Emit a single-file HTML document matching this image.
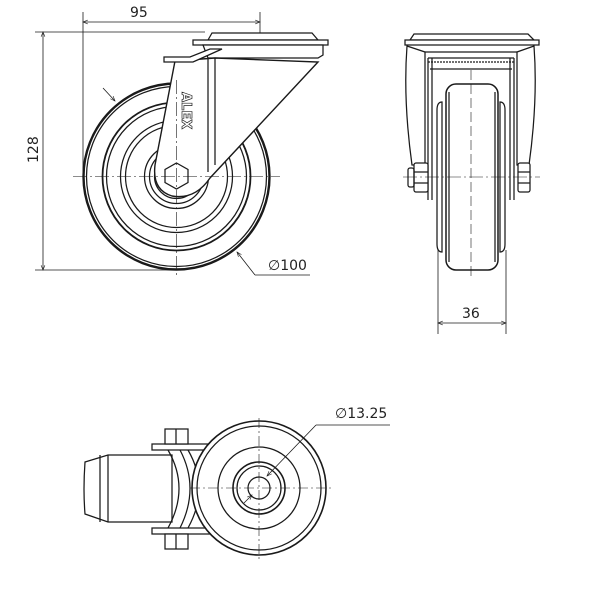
<!DOCTYPE html>
<html><head><style>
html,body{margin:0;padding:0;background:#fff;}
svg{display:block;}
text{font-family:"DejaVu Sans","Liberation Sans",sans-serif;font-size:14px;fill:#222;}
</style></head><body>
<svg width="600" height="610" viewBox="0 0 600 610" xmlns="http://www.w3.org/2000/svg">
<defs>
<marker id="a" viewBox="0 0 10 10" refX="10" refY="5" markerWidth="8" markerHeight="6" orient="auto-start-reverse"><path d="M0,1 L10,5 L0,9" fill="none" stroke="#222" stroke-width="1.3"/></marker>
</defs>
<g fill="none" stroke="#1a1a1a" stroke-width="1.25">
<!-- FRONT VIEW -->
<line x1="83" y1="12" x2="83" y2="178" stroke-width="0.8"/>
<line x1="260" y1="12" x2="260" y2="56" stroke-width="0.8"/>
<line x1="83" y1="22" x2="260" y2="22" marker-start="url(#a)" marker-end="url(#a)" stroke-width="0.8"/>
<line x1="35" y1="32" x2="205" y2="32" stroke-width="0.8"/>
<line x1="35" y1="270" x2="176" y2="270" stroke-width="0.8"/>
<line x1="43" y1="32" x2="43" y2="270" marker-start="url(#a)" marker-end="url(#a)" stroke-width="0.8"/>
<circle cx="176.5" cy="176.5" r="93" stroke-width="2.4"/>
<circle cx="176.5" cy="176.5" r="90"/>
<circle cx="176.5" cy="176.5" r="74" stroke-width="1.8"/>
<circle cx="176.5" cy="176.5" r="70"/>
<circle cx="176.5" cy="176.5" r="56"/>
<circle cx="176.5" cy="176.5" r="51"/>
<circle cx="176.5" cy="176.5" r="32"/>
<circle cx="176.5" cy="176.5" r="27"/>
<circle cx="176.5" cy="176.5" r="22"/>
<!-- plate -->
<path d="M208,40 L212,33 L312,33 L318,40 Z" fill="#fff"/>
<rect x="193" y="40" width="135" height="5" fill="#fff"/>
<path d="M203,45 L323,45 L323,55 L318,58 L208,58 Z" fill="#fff"/>
<!-- fork -->
<path d="M175,61 L155,165 Q152,190 172,196 Q195,200 210,178 L318,62 L215,58 Z" fill="#fff" stroke-width="1.4"/>
<path d="M164,57 L190,57 L210,49 L222,49 L202,58 L193,62 L164,62 Z" fill="#fff"/>
<line x1="208" y1="58" x2="208" y2="172"/>
<line x1="215" y1="58" x2="215" y2="165"/>
<polygon points="176.5,163 188,169.5 188,182.5 176.5,189 165,182.5 165,169.5" fill="#fff"/>
<line x1="73" y1="176.5" x2="280" y2="176.5" stroke-width="0.6" stroke-dasharray="14,3,2,3"/>
<line x1="176.5" y1="80" x2="176.5" y2="278" stroke-width="0.6" stroke-dasharray="14,3,2,3"/>
<line x1="103" y1="88" x2="115" y2="101" marker-end="url(#a)" stroke-width="0.8"/>
<line x1="255" y1="275" x2="237" y2="252" marker-end="url(#a)" stroke-width="0.8"/>
<line x1="255" y1="275" x2="310" y2="275" stroke-width="0.8"/>

<!-- SIDE VIEW -->
<path d="M410,40 L414,34 L528,34 L534,40 Z" fill="#fff"/>
<rect x="405" y="40" width="134" height="5" fill="#fff"/>
<path d="M407,46 Q403,100 412,165 L425,165 L425,52 Z M534,46 Q538,100 529,165 L517,165 L517,52 Z"/>
<line x1="425" y1="52" x2="517" y2="52"/>
<line x1="428" y1="58" x2="514" y2="58"/>
<line x1="428" y1="62" x2="514" y2="62" stroke-dasharray="2,1"/>
<line x1="430" y1="69" x2="512" y2="69"/>
<line x1="428" y1="58" x2="428" y2="200"/>
<line x1="432" y1="58" x2="432" y2="200"/>
<line x1="514" y1="58" x2="514" y2="200"/>
<line x1="510" y1="58" x2="510" y2="200"/>
<path d="M437,110 Q437,102 442,102 L442,252 Q437,252 437,244 Z"/>
<path d="M505,110 Q505,102 500,102 L500,252 Q505,252 505,244 Z"/>
<rect x="446" y="84" width="52" height="186" rx="10" fill="#fff" stroke-width="1.5"/>
<line x1="449" y1="92" x2="449" y2="262"/>
<line x1="495" y1="92" x2="495" y2="262"/>
<rect x="414" y="163" width="14" height="29" rx="2" fill="#fff"/>
<line x1="414" y1="172" x2="428" y2="172"/><line x1="414" y1="183" x2="428" y2="183"/>
<rect x="408" y="168" width="6" height="19" rx="2"/>
<rect x="518" y="163" width="12" height="29" rx="2" fill="#fff"/>
<line x1="518" y1="172" x2="530" y2="172"/><line x1="518" y1="183" x2="530" y2="183"/>
<line x1="403" y1="177" x2="540" y2="177" stroke-width="0.6" stroke-dasharray="14,3,2,3"/>
<line x1="471" y1="70" x2="471" y2="278" stroke-width="0.6" stroke-dasharray="10,4"/>
<line x1="438" y1="250" x2="438" y2="334" stroke-width="0.8"/>
<line x1="506" y1="250" x2="506" y2="334" stroke-width="0.8"/>
<line x1="438" y1="323" x2="506" y2="323" marker-start="url(#a)" marker-end="url(#a)" stroke-width="0.8"/>

<!-- TOP VIEW -->
<path d="M85,462 Q83,490 85,514 L108,522 L172,522 L172,455 L108,455 Z" fill="#fff"/>
<line x1="100" y1="455" x2="100" y2="522"/>
<line x1="108" y1="455" x2="108" y2="522"/>
<path d="M152,444 L210,444 L210,450 L152,450 Z" fill="#fff"/>
<path d="M152,528 L210,528 L210,534 L152,534 Z" fill="#fff"/>
<path d="M168,450 Q190,488 168,528"/>
<path d="M180,450 Q200,488 180,528"/>
<path d="M188,450 Q210,488 188,528"/>
<rect x="165" y="429" width="23" height="15" fill="#fff"/>
<line x1="176" y1="429" x2="176" y2="444"/>
<rect x="165" y="534" width="23" height="15" fill="#fff"/>
<line x1="176" y1="534" x2="176" y2="549"/>
<circle cx="259" cy="488" r="67" fill="#fff" stroke-width="1.6"/>
<circle cx="259" cy="488" r="62"/>
<circle cx="259" cy="488" r="41"/>
<circle cx="259" cy="488" r="26" stroke-width="1.6"/>
<circle cx="259" cy="488" r="22"/>
<circle cx="259" cy="488" r="11"/>
<line x1="190" y1="488" x2="332" y2="488" stroke-width="0.6" stroke-dasharray="10,3,2,3"/>
<line x1="259" y1="418" x2="259" y2="560" stroke-width="0.6" stroke-dasharray="10,3,2,3"/>
<line x1="244" y1="503" x2="252" y2="495" marker-end="url(#a)" stroke-width="0.8"/>
<line x1="316" y1="425" x2="267" y2="476" marker-end="url(#a)" stroke-width="0.8"/>
<line x1="316" y1="425" x2="390" y2="425" stroke-width="0.8"/>
</g>
<text x="130" y="17">95</text>
<text transform="translate(38,163) rotate(-90)">128</text>
<text x="268" y="270">∅100</text>
<text x="462" y="318">36</text>
<text x="335" y="418">∅13.25</text>
<text transform="translate(182,92) rotate(90)" style="font-size:13px;font-weight:bold;fill:#fff;stroke:#222;stroke-width:0.7">ALEX</text>
</svg>
</body></html>
